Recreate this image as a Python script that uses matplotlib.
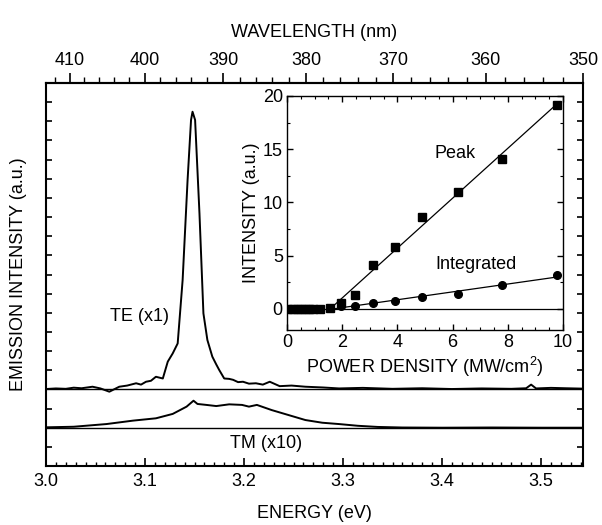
import numpy as np
import matplotlib
matplotlib.use("Agg")
import matplotlib.pyplot as plt
from matplotlib.ticker import MultipleLocator, FixedLocator, NullFormatter

plt.rcParams["font.family"] = ["Liberation Sans", "DejaVu Sans"]
plt.rcParams["mathtext.fontset"] = "custom"
plt.rcParams["mathtext.rm"] = "Liberation Sans"

# TE spectrum (x1), offset so that its baseline sits at 4
te_energy = [3.000, 3.010, 3.020, 3.028, 3.036, 3.047, 3.055, 3.064, 3.074, 3.082,
             3.091, 3.096, 3.101, 3.106, 3.111, 3.118, 3.123, 3.128, 3.133, 3.138,
             3.143, 3.1465, 3.148, 3.1506, 3.155, 3.159, 3.163, 3.168, 3.172, 3.175,
             3.180, 3.185, 3.189, 3.194, 3.199, 3.205, 3.212, 3.219, 3.226, 3.236,
             3.248, 3.262, 3.280, 3.296, 3.320, 3.350, 3.380, 3.410, 3.440, 3.470,
             3.485, 3.490, 3.495, 3.510, 3.525, 3.542]
te_signal = [4.02, 4.05, 4.03, 4.09, 4.06, 4.14, 4.05, 3.88, 4.14, 4.20,
             4.32, 4.25, 4.40, 4.45, 4.66, 4.57, 5.45, 5.88, 6.40, 9.71,
             14.93, 18.07, 18.50, 18.07, 13.20, 7.97, 6.58, 5.71, 5.30, 5.01,
             4.57, 4.55, 4.50, 4.38, 4.40, 4.30, 4.32, 4.25, 4.40, 4.17,
             4.20, 4.14, 4.10, 4.05, 4.08, 4.03, 4.06, 4.02, 4.05, 4.03,
             4.06, 4.25, 4.05, 4.08, 4.06, 4.04]

# TM spectrum (x10), offset so that its baseline sits at 2
tm_energy = [3.000, 3.028, 3.061, 3.088, 3.111, 3.128, 3.142, 3.149, 3.153, 3.162,
             3.172, 3.185, 3.198, 3.205, 3.213, 3.228, 3.245, 3.262, 3.279, 3.296,
             3.315, 3.335, 3.360, 3.400, 3.450, 3.500, 3.542]
tm_signal = [2.02, 2.05, 2.19, 2.37, 2.49, 2.72, 3.10, 3.41, 3.24, 3.19,
             3.13, 3.22, 3.19, 3.10, 3.19, 2.92, 2.66, 2.40, 2.26, 2.19,
             2.10, 2.04, 2.01, 2.00, 2.01, 2.00, 2.00]

te_base = 4.0
tm_base = 2.0

# inset: intensity vs pump power density
power = [0.05, 0.2, 0.35, 0.5, 0.65, 0.8, 0.95, 1.2, 1.55, 1.95, 2.45, 3.1, 3.9,
         4.9, 6.2, 7.8, 9.8]
peak = [0, 0, 0, 0, 0, 0, 0, 0, 0.1, 0.5, 1.3, 4.1, 5.8, 8.6, 11.0, 14.1, 19.2]
integrated = [0, 0, 0, 0, 0, 0, 0, 0, 0.05, 0.25, 0.3, 0.55, 0.75, 1.1, 1.4, 2.2, 3.2]

wl_major = [410, 400, 390, 380, 370, 360, 350]
wl_minor = list(range(350, 414, 2))

HC = 1239.84

fig = plt.figure(figsize=(6.02, 5.25), dpi=100)
ax = fig.add_axes([46 / 602, 59 / 525, 537 / 602, 383 / 525])

ax.plot(te_energy, te_signal, color="black", lw=1.4)
ax.plot(tm_energy, tm_signal, color="black", lw=1.4)
ax.axhline(te_base, color="black", lw=1.0)
ax.axhline(tm_base, color="black", lw=1.0)

ax.text(3.0946, 7.8, "TE (x1)", fontsize=13, ha="center", va="center")
ax.text(3.222, 1.2, "TM (x10)", fontsize=13, ha="center", va="center")

ax.set_xlim(3.0, 3.5424)
ax.set_ylim(0, 20)
ax.xaxis.set_major_locator(MultipleLocator(0.1))
ax.xaxis.set_minor_locator(MultipleLocator(0.01))
ax.xaxis.set_major_formatter(plt.FuncFormatter(lambda v, p: f"{v:.1f}"))
ax.yaxis.set_major_locator(MultipleLocator(1))
ax.yaxis.set_major_formatter(NullFormatter())
ax.tick_params(axis="x", which="major", direction="in", length=6, width=1.2,
               labelsize=13, pad=5)
ax.tick_params(axis="x", which="minor", direction="in", length=3, width=1.0)
ax.tick_params(axis="y", which="major", direction="in", length=4, width=1.2,
               left=True, right=True)
ax.set_xlabel("ENERGY (eV)", fontsize=13, labelpad=11)
ax.set_ylabel("EMISSION INTENSITY (a.u.)", fontsize=13, labelpad=10)
for s in ax.spines.values():
    s.set_linewidth(1.5)

top = ax.secondary_xaxis("top", functions=(lambda e: HC / e, lambda w: HC / w))
top.xaxis.set_major_locator(FixedLocator(wl_major))
top.xaxis.set_minor_locator(FixedLocator(wl_minor))
top.tick_params(which="major", direction="out", length=7, width=1.2,
                labelsize=13, pad=3)
top.tick_params(which="minor", direction="out", length=4, width=1.0)
top.set_xlabel("WAVELENGTH (nm)", fontsize=13, labelpad=11)
top.spines["top"].set_linewidth(1.5)

# inset
ins = fig.add_axes([287 / 602, 195 / 525, 276 / 602, 234 / 525])
ins.plot(power, peak, "s", color="black", ms=5.5)
ins.plot(power, integrated, "o", color="black", ms=5.5)

p = np.array(power)
pk = np.array(peak)
ig = np.array(integrated)
sel = p >= 1.9
a1, b1 = np.polyfit(p[sel], pk[sel], 1)
a2, b2 = np.polyfit(p[sel], ig[sel], 1)
x1 = np.array([-b1 / a1, p.max()])
x2 = np.array([-b2 / a2, p.max()])
ins.plot(x1, a1 * x1 + b1, color="black", lw=0.9)
ins.plot(x2, a2 * x2 + b2, color="black", lw=0.9)
ins.axhline(0, color="black", lw=0.9)

ins.text(6.1, 14.6, "Peak", fontsize=13, ha="center", va="center")
ins.text(6.85, 4.2, "Integrated", fontsize=13, ha="center", va="center")

ins.set_xlim(0, 10)
ins.set_ylim(-2, 20)
ins.xaxis.set_major_locator(MultipleLocator(2))
ins.xaxis.set_minor_locator(MultipleLocator(0.5))
ins.yaxis.set_major_locator(MultipleLocator(5))
ins.yaxis.set_minor_locator(MultipleLocator(2.5))
ins.tick_params(which="major", direction="in", length=4, width=1.0,
                top=True, right=True, labelsize=13, pad=3)
ins.tick_params(which="minor", direction="in", length=2, width=0.8,
                top=True, right=True)
ins.set_xlabel("POWER DENSITY (MW/cm$^2$)", fontsize=13, labelpad=3)
ins.set_ylabel("INTENSITY (a.u.)", fontsize=13, labelpad=2)
for s in ins.spines.values():
    s.set_linewidth(1.0)

fig.savefig("out.png", dpi=100)
